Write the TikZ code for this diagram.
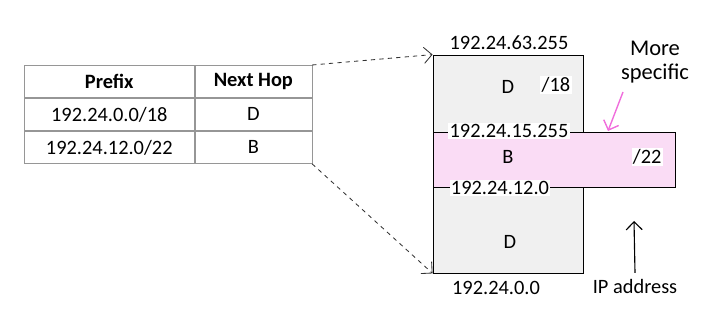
\documentclass[tikz,border=0pt]{standalone}
\usepackage{fontspec}
\setmainfont{Carlito}
\usepackage{xcolor}
\usetikzlibrary{arrows.meta,positioning}
\definecolor{blkgray}{RGB}{240,240,240}
\definecolor{blkpink}{RGB}{250,220,245}
\definecolor{arrpink}{RGB}{240,110,220}
\definecolor{tblgray}{RGB}{150,150,150}

\begin{document}
\begin{tikzpicture}[
  font=\fontsize{14.5}{17}\selectfont,
  cell/.style={draw=tblgray, rectangle, minimum height=0.81cm, inner sep=0pt, anchor=north west},
  blk/.style={draw, rectangle, line width=0.6pt, inner sep=0pt},
  addr/.style={fill=white, inner sep=1pt},
  dasharr/.style={->, dashed, line width=0.6pt, draw=black!80, >={Straight Barb[length=2mm]}},
]
\useasboundingbox (0,0) rectangle (17.7,8.125);

% ============ routing table ============
\node[cell, minimum width=4.25cm, font=\fontsize{14.5}{17}\selectfont\bfseries] (hPrefix) at (0.6,6.5) {Prefix};
\node[cell, minimum width=2.925cm, font=\fontsize{14.5}{17}\selectfont\bfseries] (hHop) at (hPrefix.north east) {Next Hop};
\node[cell, minimum width=4.25cm] (p18) at (hPrefix.south west) {192.24.0.0/18};
\node[cell, minimum width=2.925cm] (h18) at (p18.north east) {D};
\node[cell, minimum width=4.25cm] (p22) at (p18.south west) {192.24.12.0/22};
\node[cell, minimum width=2.925cm] (h22) at (p22.north east) {B};

% ============ address blocks ============
\node[blk, fill=blkgray, minimum width=3.75cm, minimum height=5.45cm] (blk18) at (12.7,4.025) {};
\node[blk, fill=blkpink, minimum width=6.05cm, minimum height=1.375cm] (blk22) at (13.85,4.1375) {};

\node (top18) at (12.725,7.05) {192.24.63.255};
\node (hopD1) at (12.7,5.95) {D};
\node[addr] (len18) at (13.9,6.0) {/18};
\node[addr] (top22) at (12.725,4.85) {192.24.15.255};
\node (hopB) at (12.7,4.2) {B};
\node[addr] (len22) at (16.18,4.2) {/22};
\node[addr] (bot22) at (12.5,3.425) {192.24.12.0};
\node (hopD2) at (12.75,2.075) {D};
\node (bot18) at (12.4,0.925) {192.24.0.0};

% ============ annotations ============
\node[align=center, font=\fontsize{16}{17}\selectfont] (more) at (16.375,6.57) {More\\specific};
\coordinate (moreTip) at (15.2,4.85);
\node (ipaddr) at (15.875,0.95) {IP address};
\coordinate (ipTip) at (15.85,2.6);

% ===================== ARROWS =====================
\draw[dasharr] (hHop.north east) -- (blk18.north west);
\draw[dasharr] (h22.south east) -- (blk18.south west);
\draw[->, arrpink, line width=1pt, >={Straight Barb[length=2mm]}] (15.575,5.825) -- (moreTip);
\draw[->, line width=0.8pt, >={Straight Barb[length=2mm]}] (ipaddr.north) ++(0,0.05) -- (ipTip);

\end{tikzpicture}
\end{document}
